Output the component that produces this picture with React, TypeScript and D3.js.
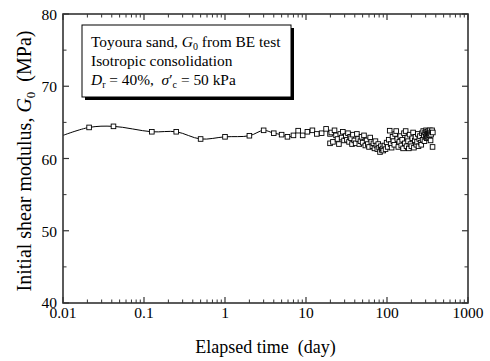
import React from "react";
import * as d3 from "d3";

const xTickValues = [0.01, 0.1, 1, 10, 100, 1000];
const xTickLabels = ["0.01", "0.1", "1", "10", "100", "1000"];
const yTickValues = [40, 50, 60, 70, 80];

// fitted line through early measurements
const lineTime = [0.01, 0.021, 0.042, 0.125, 0.25, 0.5, 1, 2, 3, 4, 5, 5.9, 7, 8, 9.1, 10.4, 12, 13.6, 15.6, 17.7, 19.8];
const lineG0 = [63.2, 64.3, 64.45, 63.7, 63.7, 62.7, 63.0, 63.15, 63.9, 63.5, 63.3, 63.0, 63.2, 63.85, 63.2, 63.7, 63.9, 63.4, 63.5, 64.1, 63.4];

// measured points
const pointTime = [
  0.021, 0.042, 0.125, 0.25, 0.5, 1, 2, 3, 4, 5, 5.9, 7, 8, 9.1, 10.4, 12, 13.6, 15.6, 17.7, 19.8, 19.8,
  20.5, 21.5, 22.5, 23.5, 24.5, 25.5, 26.5, 27.5, 28.5, 29.5, 31, 32, 33, 34, 35, 36, 37, 38, 39.5,
  41, 42.5, 44, 45.5, 47, 48.5, 50, 52, 54, 56, 58, 60, 62, 64, 66, 68, 70, 72, 74, 76, 78, 80,
  82, 84, 86, 88, 90, 93, 96, 99, 102, 105, 108, 111, 114, 117, 120, 123, 126, 130, 134, 138,
  142, 146, 150, 154, 158, 162, 166, 170, 174, 178, 182, 186, 190, 195, 200, 205, 210, 215, 220,
  225, 230, 235, 240, 245, 250, 255, 260, 265, 270, 275, 280, 285, 290, 295, 300, 303, 306, 309,
  312, 315, 318, 321, 324, 327, 330, 333, 336, 339, 342, 345, 350, 355, 360, 365, 368,
];
const pointG0 = [
  64.3, 64.45, 63.7, 63.7, 62.7, 63.0, 63.15, 63.9, 63.5, 63.3, 63.0, 63.2, 63.85, 63.2, 63.7, 63.9, 63.4, 63.5, 64.1, 63.4, 62.1,
  63.6, 62.3, 63.9, 63.2, 62.7, 62.0, 63.4, 62.9, 63.7, 62.5, 63.1, 62.6, 63.5, 62.3, 63.0, 62.8, 62.0, 63.3, 62.5,
  62.1, 63.4, 62.7, 62.0, 62.4, 63.0, 62.2, 63.2, 61.8, 62.5, 62.0, 61.6, 62.9, 62.3, 61.7, 62.1, 61.4, 62.4, 61.8, 61.3, 62.0, 61.5,
  60.9, 61.7, 61.2, 61.4, 61.1, 61.8, 61.3, 62.2, 61.6, 62.6, 63.85, 62.0, 61.5, 63.0, 62.4, 61.9, 63.4, 63.8, 62.7, 61.6,
  62.3, 63.1, 61.8, 62.6, 61.4, 63.5, 62.1, 63.8, 61.7, 62.9, 62.4, 61.4, 63.3, 62.0, 61.7, 62.8, 63.6, 61.5, 62.5,
  63.0, 61.9, 62.3, 63.4, 61.7, 62.7, 63.1, 62.2, 61.9, 63.5, 62.6, 63.8, 63.2, 62.4, 63.6, 63.0, 63.9, 63.3, 62.8,
  63.7, 63.1, 63.5, 62.9, 63.8, 63.4, 63.0, 63.6, 63.2, 63.9, 63.5, 62.5, 63.3, 63.7, 63.9, 61.6, 63.6,
];

const W = 490;
const H = 361;
const m = { left: 63, right: 468, top: 14, bottom: 303 };
const FONT = "Liberation Serif, Times New Roman, Times, DejaVu Serif, serif";

export default function App() {
  const x = d3.scaleLog().domain([0.01, 1000]).range([m.left, m.right]);
  const y = d3.scaleLinear().domain([40, 80]).range([m.bottom, m.top]);

  const minorX: number[] = [];
  for (let e = -2; e < 3; e++) {
    for (let k = 2; k <= 9; k++) minorX.push(k * Math.pow(10, e));
  }
  const minorY = [45, 55, 65, 75];

  const lineData: [number, number][] = lineTime.map((t, i) => [t, lineG0[i]]);
  const lineGen = d3
    .line<[number, number]>()
    .x((d) => x(d[0]))
    .y((d) => y(d[1]))
    .curve(d3.curveCatmullRom.alpha(0.5));

  const axisColor = "#333";
  const majorLen = 6;
  const minorLen = 3.5;
  const sq = 4.6;
  const ts = { fontFamily: FONT } as React.CSSProperties;
  const boxFs = 15.4;
  const subFs = 10;

  return (
    <svg width={W} height={H} style={{ position: "absolute", left: 0, top: 0, background: "#fff", fontFamily: FONT }}>
      <rect x={0} y={0} width={W} height={H} fill="#fff" />
      <path d={lineGen(lineData) || ""} fill="none" stroke="#000" strokeWidth={1} />
      {pointTime.map((t, i) => (
        <rect
          key={i}
          x={x(t) - sq / 2}
          y={y(pointG0[i]) - sq / 2}
          width={sq}
          height={sq}
          fill="#fff"
          stroke="#000"
          strokeWidth={0.9}
        />
      ))}

      {xTickValues.map((v) => (
        <g key={"xt" + v}>
          <line x1={x(v)} x2={x(v)} y1={m.bottom} y2={m.bottom - majorLen} stroke={axisColor} strokeWidth={1.2} />
          <line x1={x(v)} x2={x(v)} y1={m.top} y2={m.top + majorLen} stroke={axisColor} strokeWidth={1.2} />
        </g>
      ))}
      {minorX.map((v) => (
        <g key={"xm" + v}>
          <line x1={x(v)} x2={x(v)} y1={m.bottom} y2={m.bottom - minorLen} stroke={axisColor} strokeWidth={1} />
          <line x1={x(v)} x2={x(v)} y1={m.top} y2={m.top + minorLen} stroke={axisColor} strokeWidth={1} />
        </g>
      ))}
      {yTickValues.map((v) => (
        <g key={"yt" + v}>
          <line x1={m.left} x2={m.left + majorLen} y1={y(v)} y2={y(v)} stroke={axisColor} strokeWidth={1.2} />
          <line x1={m.right} x2={m.right - majorLen} y1={y(v)} y2={y(v)} stroke={axisColor} strokeWidth={1.2} />
        </g>
      ))}
      {minorY.map((v) => (
        <g key={"ym" + v}>
          <line x1={m.left} x2={m.left + minorLen} y1={y(v)} y2={y(v)} stroke={axisColor} strokeWidth={1} />
          <line x1={m.right} x2={m.right - minorLen} y1={y(v)} y2={y(v)} stroke={axisColor} strokeWidth={1} />
        </g>
      ))}
      <rect
        x={m.left}
        y={m.top}
        width={m.right - m.left}
        height={m.bottom - m.top}
        fill="none"
        stroke={axisColor}
        strokeWidth={1.6}
      />

      {xTickValues.map((v, i) => (
        <text key={"xl" + v} x={x(v)} y={317.5} textAnchor="middle" fontSize={15.5} fill="#000" style={ts}>
          {xTickLabels[i]}
        </text>
      ))}
      {yTickValues.map((v) => (
        <text key={"yl" + v} x={57} y={y(v) + (v === 40 ? 5 : 6)} textAnchor="end" fontSize={15.5} fill="#000" style={ts}>
          {v}
        </text>
      ))}

      <text x={(m.left + m.right) / 2} y={353} textAnchor="middle" fontSize={18} fill="#000" style={ts}>
        Elapsed time{"\u00a0\u00a0"}(day)
      </text>
      <text
        transform={`translate(31, 161) rotate(-90)`}
        textAnchor="middle"
        fontSize={20}
        fill="#000"
        style={ts}
      >
        Initial shear modulus,{" "}
        <tspan fontStyle="italic">G</tspan>
        <tspan fontSize={13} dy={4}>0</tspan>
        <tspan dy={-4}>{"\u00a0\u00a0"}(MPa)</tspan>
      </text>

      <rect x={85} y={28} width={209} height={72} fill="#000" />
      <rect x={82} y={25} width={209} height={72} fill="#fff" stroke="#000" strokeWidth={1} />
      <text x={91} y={46.5} fontSize={boxFs} fill="#000" style={ts}>
        Toyoura sand, <tspan fontStyle="italic">G</tspan>
        <tspan fontSize={subFs} dy={3}>0</tspan>
        <tspan dy={-3}> from BE test</tspan>
      </text>
      <text x={91} y={65.5} fontSize={boxFs} fill="#000" style={ts}>
        Isotropic consolidation
      </text>
      <text x={91} y={85} fontSize={boxFs} fill="#000" style={ts}>
        <tspan fontStyle="italic">D</tspan>
        <tspan fontSize={subFs} dy={3}>r</tspan>
        <tspan dy={-3}> = 40%,{"\u00a0\u00a0"}</tspan>
        <tspan fontStyle="italic">σ</tspan>
        <tspan>′</tspan>
        <tspan fontSize={subFs} dy={3}>c</tspan>
        <tspan dy={-3}> = 50 kPa</tspan>
      </text>
    </svg>
  );
}
